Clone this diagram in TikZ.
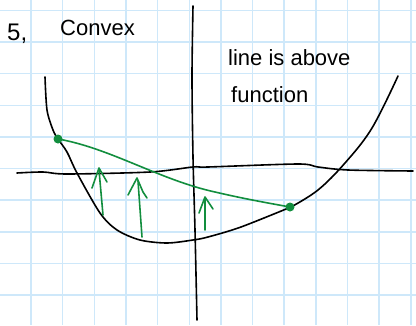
\documentclass[tikz,border=0pt]{standalone}
\usepackage{fontspec}
\setmainfont{Liberation Sans}
\definecolor{gridblue}{RGB}{206,232,250}
\definecolor{pengreen}{RGB}{18,142,62}
\begin{document}
\begin{tikzpicture}[x=1pt,y=-1pt,
  ink/.style={line width=1.6pt,line cap=round,line join=round},
  greenink/.style={ink,pengreen},
  hand/.style={font=\fontsize{22}{24}\selectfont,inner sep=0pt,anchor=base west}]
  % Paper
  \useasboundingbox[fill=white] (0,0) rectangle (416,325);
  \foreach \x in {0,...,12}
    \draw[gridblue,line width=1.5pt] ({31+31.65*\x},0) -- ({31+31.65*\x},325);
  \foreach \y in {0,...,9}
    \draw[gridblue,line width=1.5pt] (0,{10.3+31.65*\y}) -- (416,{10.3+31.65*\y});
  % Labels
  \node[hand,font=\fontsize{24}{26}\selectfont] (num) at (7,40) {5,};
  \node[hand] (convex) at (60,35) {Convex};
  \node[hand] (above) at (228,65) {line is above};
  \node[hand] (func) at (231,102) {function};
  % Axes
  \draw[ink] plot[smooth] coordinates {(17,173) (43,172) (67,174) (150,172) (193,167) (208,167) (298,164) (318,167) (348,170) (413,171)};
  \draw[ink] plot[smooth] coordinates {(193,6) (192,77) (193,157) (195,230) (197,320)};
  % Function
  \draw[ink] plot[smooth] coordinates {(45,77) (47,110) (53,130) (58,139) (67,152) (77,173) (100,213) (117,230) (140,240) (167,243) (193,240) (208,237) (241,227) (291,207)}
    plot[smooth,tension=0.6] coordinates {(291,207) (318,190) (345,163) (372,128) (398,76)};
  % Secant line
  \coordinate (p1) at (58,139);
  \coordinate (p2) at (290,207);
  \draw[greenink] (p1) .. controls (110,148) and (160,180) .. (215,192)
    .. controls (245,199) and (268,203) .. (p2);
  \fill[pengreen] (p1) circle (4.5);
  \fill[pengreen] (p2) circle (4.5);
  % Arrows
  \draw[greenink] (103,215) -- (99,170);
  \draw[greenink] (92,188) -- (99,168) -- (107,182);
  \draw[greenink] (142,237) -- (138,181);
  \draw[greenink] (128,195) -- (137,178) -- (143,192) -- (147,198);
  \draw[greenink] (205,230) -- (205,199);
  \draw[greenink] (199,213) -- (205,197) -- (213,209);
\end{tikzpicture}
\end{document}
